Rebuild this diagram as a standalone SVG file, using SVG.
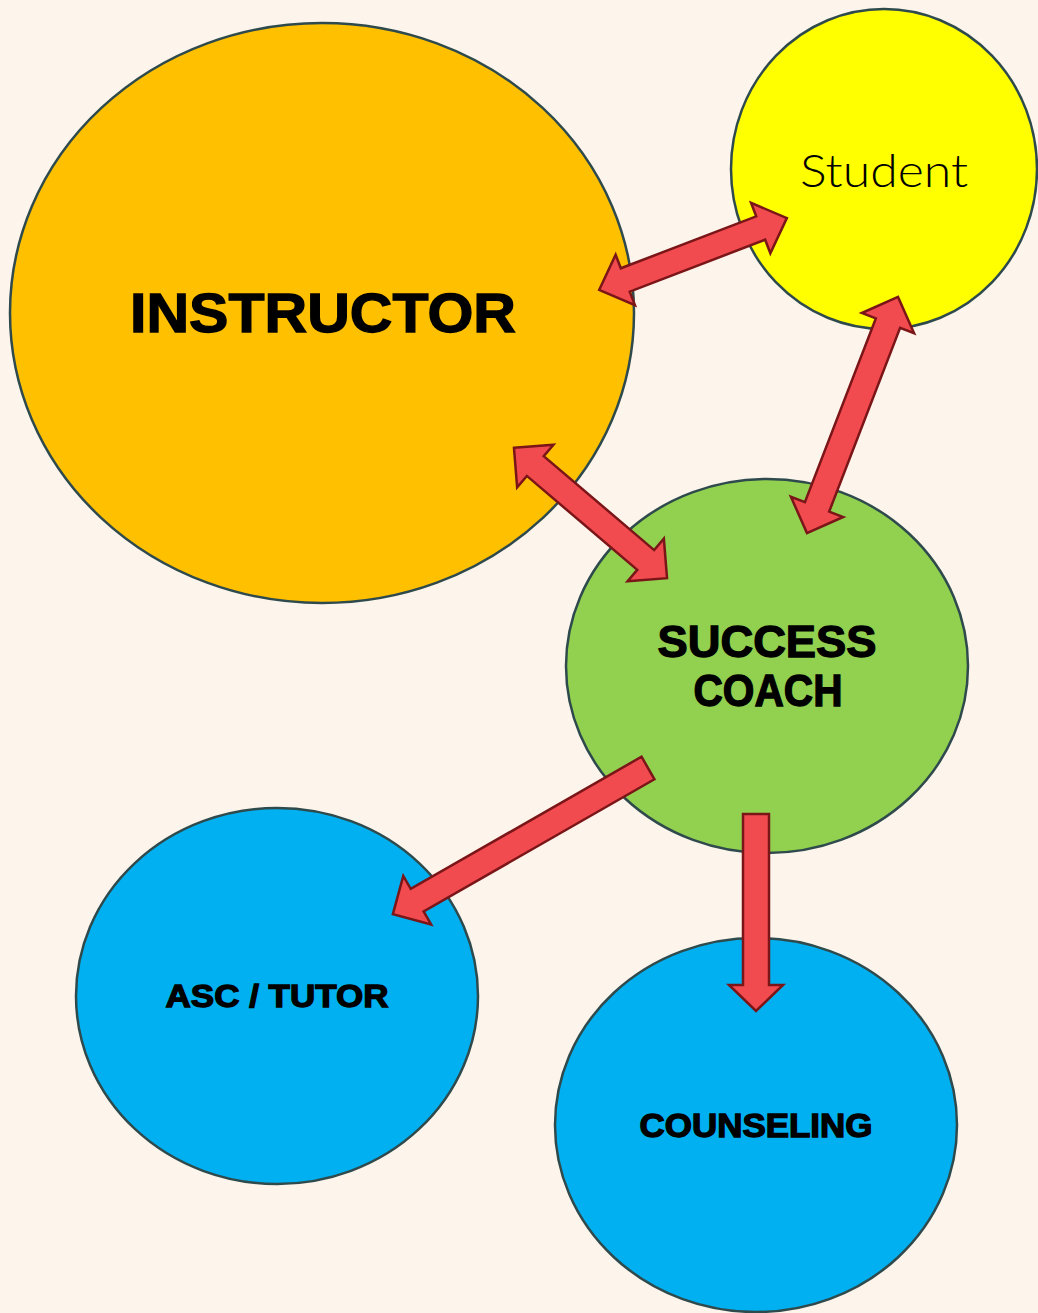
<svg xmlns="http://www.w3.org/2000/svg" width="1038" height="1313" viewBox="0 0 1038 1313">
<style>
.node{stroke:#2E4A4C;stroke-width:2.5}
.arr{fill:#F24B4F;stroke:#7A1518;stroke-width:2.5;stroke-linejoin:miter}
.lbl{font-family:"Liberation Sans",Arial,sans-serif;font-weight:bold;fill:#000;stroke:#000;stroke-width:1.3;text-anchor:middle}
</style>
<rect x="0" y="0" width="1038" height="1313" fill="#FDF4EB"/>
<g id="instructor">
<ellipse class="node" cx="322" cy="313" rx="312" ry="290" fill="#FFC000"/>
<text class="lbl" x="323" y="332" font-size="55" textLength="386" lengthAdjust="spacingAndGlyphs">INSTRUCTOR</text>
</g>
<g id="student">
<ellipse class="node" cx="884" cy="169" rx="153" ry="160" fill="#FFFF00"/>
<text x="884" y="187" font-family="Lato,'Open Sans',sans-serif" font-weight="300" font-size="46" text-anchor="middle" textLength="168" lengthAdjust="spacingAndGlyphs" fill="#000">Student</text>
</g>
<g id="success-coach">
<ellipse class="node" cx="767" cy="666" rx="201" ry="187" fill="#92D050"/>
<text class="lbl" x="767" y="657" font-size="45" textLength="219" lengthAdjust="spacingAndGlyphs">SUCCESS</text>
<text class="lbl" x="768" y="706" font-size="45" textLength="149" lengthAdjust="spacingAndGlyphs">COACH</text>
</g>
<g id="asc-tutor">
<ellipse class="node" cx="277" cy="996" rx="201" ry="188" fill="#00B0F0"/>
<text class="lbl" x="277" y="1007" font-size="32" textLength="223" lengthAdjust="spacingAndGlyphs">ASC / TUTOR</text>
</g>
<g id="counseling">
<ellipse class="node" cx="756" cy="1125" rx="201" ry="187" fill="#00B0F0"/>
<text class="lbl" x="756" y="1137" font-size="33" textLength="233" lengthAdjust="spacingAndGlyphs">COUNSELING</text>
</g>
<g id="connectors">
<polygon class="arr" transform="translate(693,254) rotate(-20.96)" points="-100.5,0 -72.5,-27 -72.5,-12.5 72.5,-12.5 72.5,-27 100.5,0 72.5,27 72.5,12.5 -72.5,12.5 -72.5,27"/>
<polygon class="arr" transform="translate(590.5,513) rotate(40.4)" points="-100.5,0 -72.5,-28 -72.5,-13 72.5,-13 72.5,-28 100.5,0 72.5,28 72.5,13 -72.5,13 -72.5,28"/>
<polygon class="arr" transform="translate(852.5,415) rotate(111.1)" points="-126.5,0 -98.5,-28 -98.5,-13 98.5,-13 98.5,-28 126.5,0 98.5,28 98.5,13 -98.5,13 -98.5,28"/>
<polygon class="arr" transform="translate(648,768) rotate(150.2)" points="0,-13 266,-13 266,-28 294,0 266,28 266,13 0,13"/>
<polygon class="arr" points="743,814 769,814 769,985 783,985 756,1011 729,985 743,985"/>
</g>
</svg>
